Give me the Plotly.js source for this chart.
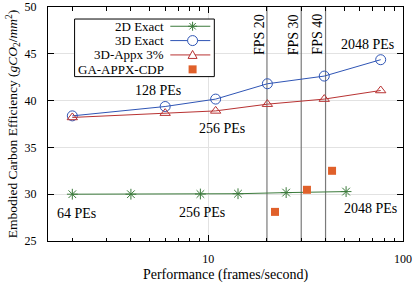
<!DOCTYPE html>
<html><head><meta charset="utf-8">
<script src="https://cdn.plot.ly/plotly-3.0.1.min.js"></script>
<style>html,body{margin:0;padding:0;background:#fff}#chart{width:417px;height:287px}</style>
</head><body><div id="chart"></div>
<script>
// ---- data ----
const seriesNames = ['2D Exact', '3D Exact', '3D-Appx 3%', 'GA-APPX-CDP'];
const perf2D = [2, 4, 9.1, 14.2, 25.1, 51];
const eff2D = [30.0, 30.0, 30.02, 30.05, 30.17, 30.28];
const perf3D = [2, 6, 10.9, 20.1, 39.4, 76.8];
const eff3D = [38.37, 39.37, 40.16, 41.8, 42.62, 44.37];
const perf3DAppx = [2, 6, 10.9, 20.1, 39.4, 76.8];
const eff3DAppx = [38.2, 38.66, 38.9, 39.62, 40.16, 41.08];
const perfGA = [22.0, 32.1, 43.2];
const effGA = [28.11, 30.47, 32.5];
const fpsTargets = [20, 30, 40];
const fpsLabels = ['FPS 20', 'FPS 30', 'FPS 40'];
const peLabels = ['128 PEs', '256 PEs', '2048 PEs', '64 PEs', '256 PEs', '2048 PEs'];
const yTicks = [25, 30, 35, 40, 45, 50];
const xTicks = [10, 100];
const xTickText = ['10', '100'];

// ---- styling ----
const FONT = 'Liberation Serif, Times New Roman, serif';
const colors = ['#3b7a3b', '#2f55b5', '#b83232', '#e0602a'];
const yRange = [25, 50];
const xRange = [Math.log10(1.5), 2];

const traces = [];
fpsTargets.forEach(v => traces.push({
  x: [v, v], y: yRange, mode: 'lines', showlegend: false, hoverinfo: 'skip',
  line: {color: '#7a7a7a', width: 1.2}
}));
traces.push({x: perf2D, y: eff2D, mode: 'lines+markers', name: seriesNames[0],
  line: {color: colors[0], width: 1}, marker: {symbol: 'asterisk-open', size: 9, line: {color: colors[0], width: 1}}});
traces.push({x: perf3D, y: eff3D, mode: 'lines+markers', name: seriesNames[1],
  line: {color: colors[1], width: 1}, marker: {symbol: 'circle-open', size: 10, color: colors[1], line: {color: colors[1], width: 1}}});
traces.push({x: perf3DAppx, y: eff3DAppx, mode: 'lines+markers', name: seriesNames[2],
  line: {color: colors[2], width: 1}, marker: {symbol: 'triangle-up-open', size: 9, color: colors[2], line: {color: colors[2], width: 1}}});
traces.push({x: perfGA, y: effGA, mode: 'markers', name: seriesNames[3],
  marker: {symbol: 'square', size: 8, color: colors[3]}});

// annotation positions (pixel-derived, in axis units)
const pePos = [[0.739, 41.05], [1.068, 36.98], [1.816, 45.98], [0.325, 27.9], [0.966, 28.02], [1.832, 28.5]];
const annotations = [];
peLabels.forEach((t, i) => annotations.push({
  text: t, x: pePos[i][0], y: pePos[i][1], xref: 'x', yref: 'y', showarrow: false,
  xanchor: 'center', yanchor: 'middle', font: {family: FONT, size: 14, color: '#000'}
}));
fpsTargets.forEach((v, i) => annotations.push({
  text: fpsLabels[i], x: Math.log10(v), y: 47.05, xref: 'x', yref: 'y', showarrow: false,
  textangle: -90, xanchor: 'center', yanchor: 'middle', xshift: -7.5,
  font: {family: FONT, size: 14, color: '#000'}
}));

// custom legend (text left, sample right)
const legRows = [0.9177, 0.8565, 0.7952, 0.7335];
const legTextX = 0.3332, legLine0 = 0.3445, legLine1 = 0.4572, legMark = 0.4073;
const shapes = [{type: 'rect', xref: 'paper', yref: 'paper', x0: 0.0749, x1: 0.4685, y0: 0.7025, y1: 0.9486,
  line: {color: '#000', width: 1}, fillcolor: '#fff', layer: 'above'}];
seriesNames.forEach((n, i) => {
  annotations.push({text: n, xref: 'paper', yref: 'paper', x: legTextX, y: legRows[i], showarrow: false,
    xanchor: 'right', yanchor: 'middle', font: {family: FONT, size: 13, color: '#000'}});
  if (i < 3) shapes.push({type: 'line', xref: 'paper', yref: 'paper', x0: legLine0, x1: legLine1,
    y0: legRows[i], y1: legRows[i], line: {color: colors[i], width: 1}, layer: 'above'});
});
const pix = {xref: 'paper', yref: 'paper', xsizemode: 'pixel', ysizemode: 'pixel', layer: 'above'};
shapes.push(Object.assign({}, pix, {type: 'path', xanchor: legMark, yanchor: legRows[0],
  path: 'M0,-4.5L0,4.5M-4.5,0L4.5,0M-3.2,-3.2L3.2,3.2M-3.2,3.2L3.2,-3.2', line: {color: colors[0], width: 1}}));
shapes.push(Object.assign({}, pix, {type: 'circle', xanchor: legMark, yanchor: legRows[1],
  x0: -5, x1: 5, y0: -5, y1: 5, line: {color: colors[1], width: 1}, fillcolor: '#fff'}));
shapes.push(Object.assign({}, pix, {type: 'path', xanchor: legMark, yanchor: legRows[2],
  path: 'M-4.5,-3.5L4.5,-3.5L0,4.5Z', line: {color: colors[2], width: 1}, fillcolor: '#fff'}));
shapes.push(Object.assign({}, pix, {type: 'rect', xanchor: legMark, yanchor: legRows[3],
  x0: -4, x1: 4, y0: -4, y1: 4, line: {width: 0}, fillcolor: colors[3]}));

const layout = {
  width: 417, height: 287,
  margin: {l: 48, r: 14, t: 7, b: 46},
  paper_bgcolor: '#fff', plot_bgcolor: '#fff',
  showlegend: false,
  font: {family: FONT, size: 12, color: '#000'},
  xaxis: {
    type: 'log', range: xRange, tickvals: xTicks, ticktext: xTickText,
    ticks: 'inside', ticklen: 6, tickcolor: '#000', tickwidth: 1,
    showline: true, linecolor: '#000', linewidth: 1, mirror: 'allticks',
    showgrid: true, gridcolor: '#e2e2e2', gridwidth: 1, zeroline: false,
    tickfont: {family: FONT, size: 12}, ticklabelstandoff: 7,
    minor: {tickvals: [2, 3, 4, 5, 6, 7, 8, 9, 20, 30, 40, 50, 60, 70, 80, 90], ticks: 'inside', ticklen: 3.5, tickcolor: '#000', showgrid: false},
    title: {text: 'Performance (frames/second)', font: {family: FONT, size: 14}, standoff: 3},
    automargin: false
  },
  yaxis: {
    range: yRange, tickvals: yTicks,
    ticks: 'inside', ticklen: 6, tickcolor: '#000', tickwidth: 1,
    showline: true, linecolor: '#000', linewidth: 1, mirror: 'allticks',
    showgrid: true, gridcolor: '#e2e2e2', gridwidth: 1, zeroline: false,
    tickfont: {family: FONT, size: 12}, ticklabelstandoff: 8,
    title: {text: 'Embodied Carbon Efficiency (<i>gCO</i><sub>2</sub>/<i>mm</i><sup>2</sup>)', font: {family: FONT, size: 13.5}, standoff: 3},
    automargin: false
  },
  annotations: annotations,
  shapes: shapes
};
Plotly.newPlot('chart', traces, layout, {displayModeBar: false, staticPlot: true});
</script></body></html>
